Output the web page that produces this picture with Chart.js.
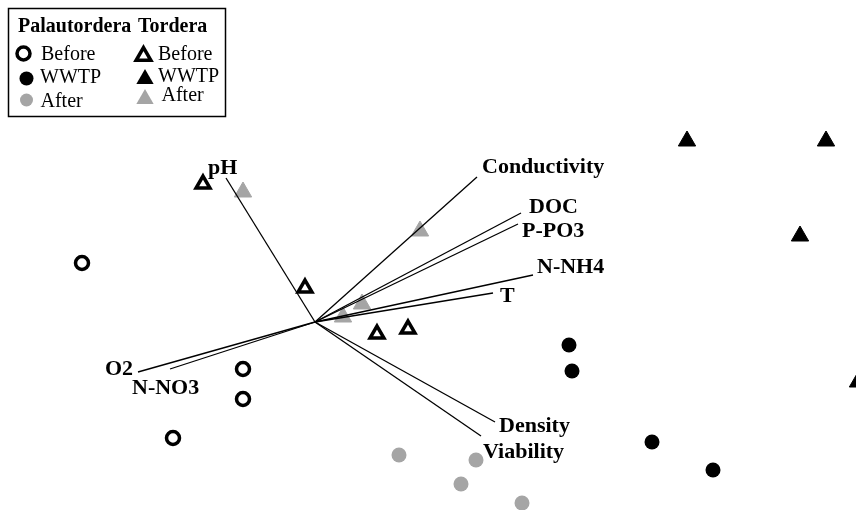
<!DOCTYPE html>
<html>
<head>
<meta charset="utf-8">
<script src="https://cdn.jsdelivr.net/npm/chart.js@4/dist/chart.umd.min.js"></script>
<style>
  html, body { margin: 0; padding: 0; background: #fff; }
  #wrap { width: 856px; height: 510px; }
</style>
</head>
<body>
<div id="wrap"><canvas id="biplot" width="856" height="510"></canvas></div>
<script>
// sample scores (PCA axis 1 / axis 2)
const palBeforeX = [-2.33, -0.72, -0.72, -1.42];
const palBeforeY = [0.59, -0.47, -0.77, -1.16];
const palWwtpX = [2.54, 2.57, 3.37, 3.98];
const palWwtpY = [-0.23, -0.49, -1.20, -1.48];
const palAfterX = [0.84, 1.61, 1.46, 2.07];
const palAfterY = [-1.33, -1.38, -1.62, -1.81];

const torBeforeX = [-1.12, -0.10, 0.62, 0.93];
const torBeforeY = [1.38, 0.34, -0.12, -0.07];
const torWwtpX = [3.72, 5.11, 4.85, 5.43];
const torWwtpY = [1.81, 1.81, 0.86, -0.60];
const torAfterX = [-0.72, 1.05, 0.47, 0.28];
const torAfterY = [1.30, 0.91, 0.18, 0.05];

// variable loadings
const vectorNames = ['pH', 'Conductivity', 'DOC', 'P-PO3', 'N-NH4', 'T', 'O2', 'N-NO3', 'Density', 'Viability'];
const vectorX = [-0.89, 1.62, 2.06, 2.03, 2.18, 1.78, -1.77, -1.45, 1.80, 1.66];
const vectorY = [1.44, 1.45, 1.09, 0.98, 0.47, 0.29, -0.50, -0.47, -1.00, -1.14];

// where each label sits from the arrow tip (px, baseline)
const labelOffsets = [[-18, -4], [5, -4], [8, 0], [4, 12.7], [4, -2.3], [7, 9], [-33, 3.3], [-38, 25], [4, 10], [2, 22]];

const GRAY = '#a5a5a5';

function pts(xs, ys) {
  return xs.map((x, i) => ({ x: x, y: ys[i] }));
}

const datasets = [];

// vectors first so they are drawn over the samples
vectorNames.forEach((name, i) => {
  datasets.push({
    label: name,
    data: [{ x: 0, y: 0 }, { x: vectorX[i], y: vectorY[i] }],
    showLine: true,
    borderColor: '#000',
    borderWidth: 1.3,
    pointRadius: 0,
    clip: false
  });
});

const groups = [
  { label: 'Palautordera Before', xs: palBeforeX, ys: palBeforeY, style: 'circle', r: 6.5, bg: '#fff', bc: '#000', bw: 3.5 },
  { label: 'Palautordera WWTP', xs: palWwtpX, ys: palWwtpY, style: 'circle', r: 7.5, bg: '#000', bc: '#000', bw: 0 },
  { label: 'Palautordera After', xs: palAfterX, ys: palAfterY, style: 'circle', r: 7.5, bg: GRAY, bc: GRAY, bw: 0 },
  { label: 'Tordera Before', xs: torBeforeX, ys: torBeforeY, style: 'triangle', r: 8, bg: '#fff', bc: '#000', bw: 3.5 },
  { label: 'Tordera WWTP', xs: torWwtpX, ys: torWwtpY, style: 'triangle', r: 10, bg: '#000', bc: '#000', bw: 1 },
  { label: 'Tordera After', xs: torAfterX, ys: torAfterY, style: 'triangle', r: 10, bg: GRAY, bc: GRAY, bw: 1 }
];

groups.forEach(g => {
  datasets.push({
    label: g.label,
    data: pts(g.xs, g.ys),
    pointStyle: g.style,
    pointRadius: g.r,
    pointBackgroundColor: g.bg,
    pointBorderColor: g.bc,
    pointBorderWidth: g.bw,
    showLine: false,
    clip: false
  });
});

const vectorLabels = {
  id: 'vectorLabels',
  afterDatasetsDraw(chart) {
    const ctx = chart.ctx;
    ctx.save();
    ctx.font = 'bold 22px "Liberation Serif", "Times New Roman", serif';
    ctx.fillStyle = '#000';
    ctx.textBaseline = 'alphabetic';
    ctx.textAlign = 'left';
    vectorNames.forEach((name, i) => {
      const tip = chart.getDatasetMeta(i).data[1];
      ctx.fillText(name, tip.x + labelOffsets[i][0], tip.y + labelOffsets[i][1]);
    });
    ctx.restore();
  }
};

function marker(ctx, style, r, bg, bc, bw, x, y) {
  ctx.fillStyle = bg;
  ctx.strokeStyle = bc;
  ctx.lineWidth = bw;
  Chart.helpers.drawPoint(ctx, { pointStyle: style, radius: r, borderWidth: bw, rotation: 0 }, x, y);
}

const boxLegend = {
  id: 'boxLegend',
  afterDraw(chart) {
    const ctx = chart.ctx;
    ctx.save();
    ctx.strokeStyle = '#000';
    ctx.lineWidth = 1.5;
    ctx.strokeRect(8.5, 8.5, 217, 108);

    ctx.fillStyle = '#000';
    ctx.font = 'bold 20px "Liberation Serif", "Times New Roman", serif';
    ctx.fillText('Palautordera', 18, 31.5);
    ctx.fillText('Tordera', 138, 31.5);

    marker(ctx, 'circle', 6.5, '#fff', '#000', 3.5, 23.5, 53.5);
    marker(ctx, 'circle', 7, '#000', '#000', 0, 26.5, 78.5);
    marker(ctx, 'circle', 6.5, GRAY, GRAY, 0, 26.5, 100);
    marker(ctx, 'triangle', 8.5, '#fff', '#000', 3.5, 143.5, 56);
    marker(ctx, 'triangle', 10, '#000', '#000', 0, 145, 79);
    marker(ctx, 'triangle', 10, GRAY, GRAY, 0, 145, 99);

    ctx.fillStyle = '#000';
    ctx.font = '20px "Liberation Serif", "Times New Roman", serif';
    ctx.fillText('Before', 41, 60);
    ctx.fillText('WWTP', 40, 83);
    ctx.fillText('After', 40.5, 106.5);
    ctx.fillText('Before', 158, 60);
    ctx.fillText('WWTP', 158, 81.5);
    ctx.fillText('After', 161.5, 100.5);
    ctx.restore();
  }
};

const ctx1 = document.getElementById('biplot').getContext('2d');
new Chart(ctx1, {
  type: 'scatter',
  data: { datasets: datasets },
  options: {
    responsive: false,
    animation: false,
    layout: { padding: 0, autoPadding: false },
    scales: {
      x: { type: 'linear', min: -3.15, max: 5.41, display: false },
      y: { type: 'linear', min: -1.88, max: 3.22, display: false }
    },
    plugins: {
      legend: { display: false },
      tooltip: { enabled: false }
    }
  },
  plugins: [vectorLabels, boxLegend]
});
</script>
</body>
</html>
